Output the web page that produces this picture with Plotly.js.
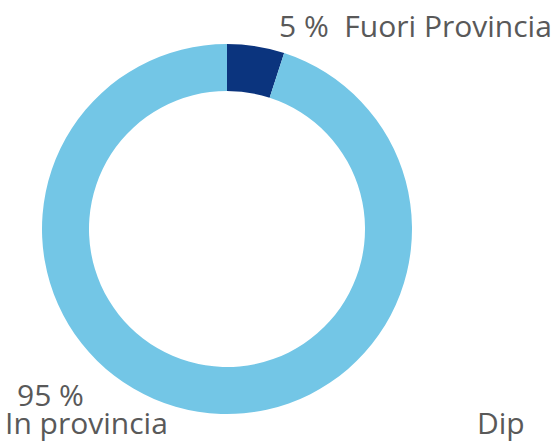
<!DOCTYPE html>
<html>
<head>
<meta charset="utf-8">
<script src="https://cdn.plot.ly/plotly-3.0.1.min.js"></script>
<style>html,body{margin:0;padding:0;background:#fff;}#chart{width:556px;height:444px;}</style>
</head>
<body>
<div id="chart"></div>
<script>
var labels = ['Fuori Provincia', 'In provincia'];
var values = [5, 95];
var colors = ['#0B347E', '#73C6E6'];
var extraLabel = 'Dip';

var font = {family: '"Open Sans", sans-serif', size: 30, color: '#595959'};

var trace = {
  type: 'pie',
  labels: labels,
  values: values,
  hole: 0.746,
  sort: false,
  direction: 'clockwise',
  rotation: 0,
  marker: {colors: colors, line: {width: 0}},
  textinfo: 'none',
  hoverinfo: 'label+percent',
  showlegend: false,
  domain: {x: [42/556, 412/556], y: [30/444, 400/444]}
};

var layout = {
  width: 556, height: 444,
  margin: {l: 0, r: 0, t: 0, b: 0},
  paper_bgcolor: '#ffffff',
  showlegend: false,
  annotations: [
    {xref: 'paper', yref: 'paper', x: 278/556, y: 1 - 4/444, xanchor: 'left', yanchor: 'top', borderpad: 0,
     text: values[0] + ' %  ' + labels[0], showarrow: false, font: font, align: 'left'},
    {xref: 'paper', yref: 'paper', x: 16/556, y: 28/444, xanchor: 'left', yanchor: 'bottom', borderpad: 0,
     text: values[1] + ' %', showarrow: false, font: font, align: 'left'},
    {xref: 'paper', yref: 'paper', x: 4/556, y: 0, xanchor: 'left', yanchor: 'bottom', borderpad: 0,
     text: labels[1], showarrow: false, font: font, align: 'left'},
    {xref: 'paper', yref: 'paper', x: 476/556, y: 0, xanchor: 'left', yanchor: 'bottom', borderpad: 0,
     text: extraLabel, showarrow: false, font: font, align: 'left'}
  ]
};

Plotly.newPlot('chart', [trace], layout, {displayModeBar: false, staticPlot: true});
</script>
</body>
</html>
